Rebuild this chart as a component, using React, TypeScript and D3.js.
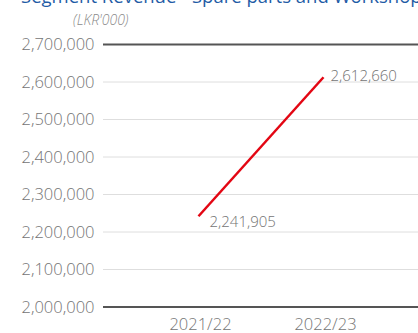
import React from "react";
import * as d3 from "d3";

const categories = ["2021/22", "2022/23"];
const values = [2241905, 2612660];
const yTicks = [2000000, 2100000, 2200000, 2300000, 2400000, 2500000, 2600000, 2700000];
const title = "Segment Revenue - Spare parts and Workshop";
const unitLabel = "(LKR'000)";

const W = 418;
const H = 333;
const FONT = "'Open Sans', 'Noto Sans', sans-serif";

export default function App() {
  const y = d3.scaleLinear().domain([2000000, 2700000]).range([307, 44.5]);
  const x = d3.scalePoint<string>().domain(categories).range([198.5, 323.5]);
  const fmt = d3.format(",");
  const line = d3
    .line<number>()
    .x((_, i) => x(categories[i]) as number)
    .y((d) => y(d));

  return (
    <svg
      width={W}
      height={H}
      style={{ position: "absolute", left: 0, top: 0, display: "block", background: "#fff" }}
    >
      <text x={21} y={3} fontFamily={FONT} fontSize={18.5} fill="#1f5ca6">
        {title}
      </text>
      <text x={73} y={25} fontFamily={FONT} fontSize={14} fontStyle="italic" fontWeight={300} fill="#8a8a8a">
        {unitLabel}
      </text>
      {yTicks.map((t) => {
        const edge = t === 2000000 || t === 2700000;
        return (
          <g key={t}>
            <line
              x1={103}
              x2={W}
              y1={y(t)}
              y2={y(t)}
              stroke={edge ? "#555" : "#dedede"}
              strokeWidth={edge ? 2 : 1}
            />
            <text
              x={94.5}
              y={y(t)}
              dy="0.35em"
              textAnchor="end"
              fontFamily={FONT}
              fontSize={16.5}
              fontWeight={300}
              fill="#747474"
            >
              {fmt(t)}
            </text>
          </g>
        );
      })}
      {categories.map((c) => (
        <text
          key={c}
          x={(x(c) as number) + 2}
          y={330}
          textAnchor="middle"
          fontFamily={FONT}
          fontSize={16.5}
          fontWeight={300}
          fill="#747474"
        >
          {c}
        </text>
      ))}
      <path d={line(values) || ""} fill="none" stroke="#e30613" strokeWidth={2.5} />
      <text
        x={(x(categories[0]) as number) + 11}
        y={y(values[0]) + 11}
        fontFamily={FONT}
        fontSize={15}
        fontWeight={300}
        fill="#747474"
      >
        {fmt(values[0])}
      </text>
      <text
        x={(x(categories[1]) as number) + 7}
        y={y(values[1]) + 4}
        fontFamily={FONT}
        fontSize={15}
        fontWeight={300}
        fill="#747474"
      >
        {fmt(values[1])}
      </text>
    </svg>
  );
}
